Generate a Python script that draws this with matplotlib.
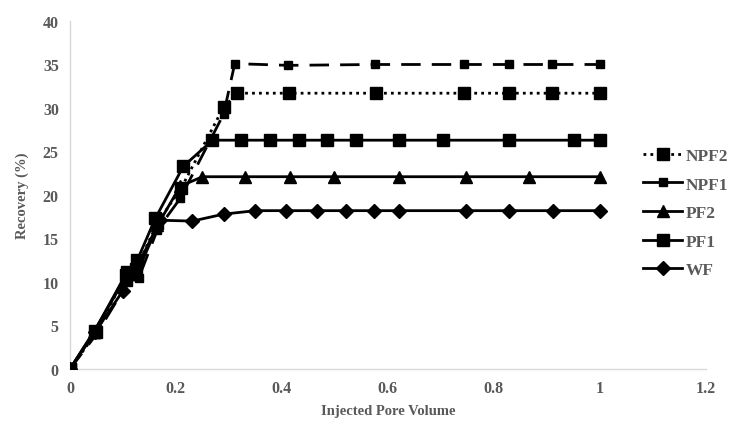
import matplotlib
matplotlib.use("Agg")
import matplotlib.pyplot as plt
from matplotlib.lines import Line2D

# Data
wf_x = [0, 0.047, 0.10, 0.125, 0.17, 0.231, 0.29, 0.35, 0.407, 0.466, 0.521, 0.574, 0.621, 0.748, 0.828, 0.911, 1.0]
wf_y = [0, 4.2, 9.0, 10.8, 17.1, 17.0, 17.8, 18.2, 18.2, 18.2, 18.2, 18.2, 18.2, 18.2, 18.2, 18.2, 18.2]

pf1_x = [0, 0.047, 0.108, 0.127, 0.161, 0.214, 0.269, 0.322, 0.377, 0.432, 0.485, 0.540, 0.621, 0.705, 0.828, 0.952, 1.0]
pf1_y = [0, 4.4, 11.2, 12.5, 17.3, 23.3, 26.3, 26.3, 26.3, 26.3, 26.3, 26.3, 26.3, 26.3, 26.3, 26.3, 26.3]

pf2_x = [0, 0.045, 0.105, 0.125, 0.165, 0.208, 0.25, 0.331, 0.415, 0.498, 0.621, 0.748, 0.867, 1.0]
pf2_y = [0, 4.3, 10.5, 11.5, 16.5, 21.0, 22.1, 22.1, 22.1, 22.1, 22.1, 22.1, 22.1, 22.1]

npf1_x = [0, 0.05, 0.11, 0.13, 0.165, 0.208, 0.29, 0.311, 0.412, 0.575, 0.744, 0.828, 0.909, 1.0]
npf1_y = [0, 4.0, 10.0, 10.5, 16.0, 19.6, 29.3, 35.1, 34.9, 35.0, 35.0, 35.0, 35.0, 35.0]

npf2_x = [0, 0.05, 0.105, 0.125, 0.165, 0.21, 0.29, 0.316, 0.413, 0.578, 0.744, 0.828, 0.909, 1.0]
npf2_y = [0, 4.2, 10.8, 11.5, 16.8, 20.8, 30.1, 31.7, 31.7, 31.7, 31.7, 31.7, 31.7, 31.7]

x_ticks = [0, 0.2, 0.4, 0.6, 0.8, 1.0, 1.2]
x_tick_labels = ["0", "0.2", "0.4", "0.6", "0.8", "1", "1.2"]
y_ticks = [0, 5, 10, 15, 20, 25, 30, 35, 40]

plt.rcParams['font.family'] = ['Liberation Serif', 'DejaVu Serif']
gray = '#595959'

fig = plt.figure(figsize=(7.35, 4.27), dpi=100)
ax = fig.add_axes([0.0952, 0.1335, 0.865, 0.815])

lw = 2.0
ax.plot(wf_x, wf_y, color='black', lw=lw, marker='D', ms=7, label='WF', zorder=3)
ax.plot(pf1_x, pf1_y, color='black', lw=lw, marker='s', ms=8, label='PF1', zorder=3)
ax.plot(pf2_x, pf2_y, color='black', lw=lw, marker='^', ms=8, label='PF2', zorder=3)
ax.plot(npf1_x, npf1_y, color='black', lw=lw, marker='s', ms=6, ls=(0, (7, 4)), label='NPF1', zorder=3)
ax.plot(npf2_x, npf2_y, color='black', lw=lw, marker='s', ms=8.5, ls=(0, (1, 1.5)), label='NPF2', zorder=3)

ax.set_xlim(0, 1.2)
ax.set_ylim(0, 40)
ax.set_xticks(x_ticks)
ax.set_xticklabels(x_tick_labels)
ax.set_yticks(y_ticks)

for s in ['top', 'right']:
    ax.spines[s].set_visible(False)
for s in ['left', 'bottom']:
    ax.spines[s].set_color('#d9d9d9')
    ax.spines[s].set_linewidth(1.0)
ax.tick_params(length=0, pad=8, labelsize=11.5, labelcolor=gray)
for lab in ax.get_xticklabels() + ax.get_yticklabels():
    lab.set_fontweight('bold')

ax.set_xlabel('Injected Pore Volume', fontsize=10.5, fontweight='bold', color=gray, labelpad=6)
ax.set_ylabel('Recovery (%)', fontsize=10.5, fontweight='bold', color=gray, labelpad=10)

handles = [
    Line2D([], [], color='black', lw=lw, marker='s', ms=8.5, ls=(0, (1, 1.5))),
    Line2D([], [], color='black', lw=lw, marker='s', ms=6),
    Line2D([], [], color='black', lw=lw, marker='^', ms=8),
    Line2D([], [], color='black', lw=lw, marker='s', ms=8),
    Line2D([], [], color='black', lw=lw, marker='D', ms=7),
]
labels = ['NPF2', 'NPF1', 'PF2', 'PF1', 'WF']
leg = fig.legend(handles, labels, loc='upper left', bbox_to_anchor=(0.866, 0.668),
                 frameon=False, fontsize=12.5, handlelength=2.2, handletextpad=0.25,
                 labelspacing=0.72, borderaxespad=0)
for t in leg.get_texts():
    t.set_color(gray)
    t.set_fontweight('bold')

fig.savefig('out.png', dpi=100)
